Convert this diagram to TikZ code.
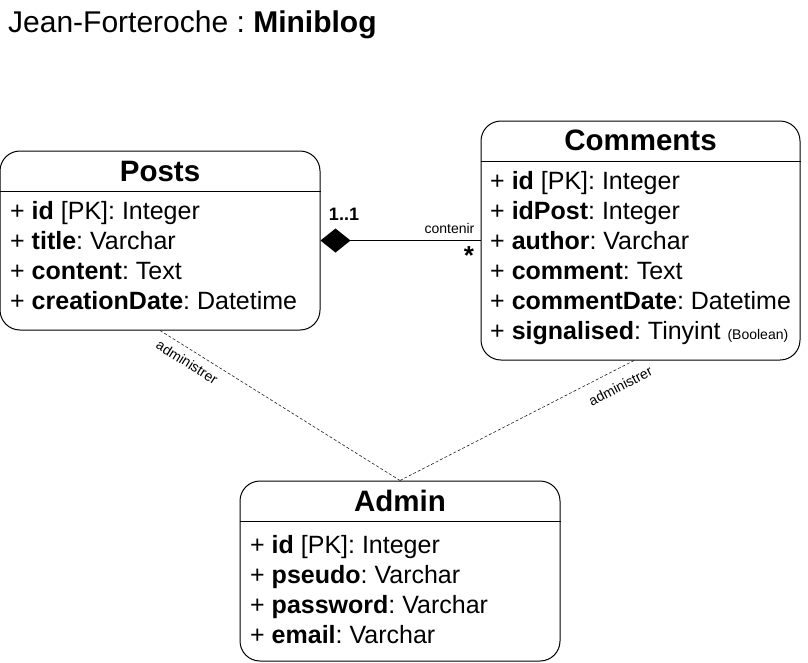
\documentclass[tikz,border=0pt]{standalone}
\usepackage{fontspec}
\setmainfont{Liberation Sans}
\usetikzlibrary{arrows.meta}
\frenchspacing
\tikzset{
  entity/.style={draw, line width=1pt, rounded corners=20pt, minimum width=320pt, inner sep=0pt},
  head/.style={font=\fontsize{29.5}{32}\bfseries\selectfont, anchor=base, inner sep=0pt},
  attr/.style={font=\fontsize{25}{28}\selectfont, anchor=base west, inner sep=0pt},
  rolelabel/.style={font=\fontsize{14}{16}\selectfont, inner sep=0pt}
}
\begin{document}
\begin{tikzpicture}[x=1pt, y=-1pt]
\useasboundingbox (0,0) rectangle (808,662);
% title
\node[anchor=base west, inner sep=0pt, font=\fontsize{30}{32}\selectfont] (title) at (8,32) {Jean-Forteroche : \textbf{Miniblog}};
% boxes
\node[entity, minimum height=179pt] (posts) at (160,240.5) {};
\node[entity, minimum width=319pt, minimum height=239pt] (comments) at (640.5,240.5) {};
\node[entity, minimum height=180pt] (admin) at (400,571) {};
\draw[line width=1pt] (posts.west |- 0,191) -- (posts.east |- 0,191);
\draw[line width=1pt] (comments.west |- 0,161) -- (comments.east |- 0,161);
\draw[line width=1pt] (admin.west |- 0,521) -- (admin.east |- 0,521);
\node[head] (postshead) at (160,181.5) {Posts};
\node[head] (commentshead) at (640.5,150) {Comments};
\node[head] (adminhead) at (400,511.5) {Admin};
% attributes
\foreach [count=\i] \t in {{+ \textbf{id} [PK]: Integer}, {+ \textbf{title}: Varchar},
  {+ \textbf{content}: Text}, {+ \textbf{creationDate}: Datetime}}
  \node[attr] (post\i) at (10,189.5+30*\i) {\t};
\foreach [count=\i] \t in {{+ \textbf{id} [PK]: Integer}, {+ \textbf{idPost}: Integer},
  {+ \textbf{author}: Varchar}, {+ \textbf{comment}: Text}, {+ \textbf{commentDate}: Datetime},
  {+ \textbf{signalised}: Tinyint {\fontsize{14}{15}\selectfont(Boolean)}}}
  \node[attr] (comment\i) at (490,159+30*\i) {\t};
\foreach [count=\i] \t in {{+ \textbf{id} [PK]: Integer}, {+ \textbf{pseudo}: Varchar},
  {+ \textbf{password}: Varchar}, {+ \textbf{email}: Varchar}}
  \node[attr] (admin\i) at (250,523.5+30*\i) {\t};
% relations
\draw[line width=1pt, -{Diamond[length=30pt, width=24pt]}] (comments.west) -- (posts.east);
\node[font=\fontsize{18}{20}\bfseries\selectfont, inner sep=0pt] (mult1) at (344,214) {1..1};
\node[rolelabel] (contenir) at (449.5,228) {contenir};
\node[font=\fontsize{26}{28}\bfseries\selectfont, inner sep=0pt] (multn) at (469,256) {*};
\coordinate (cfoot) at ([xshift=-6.5pt]comments.south);
\draw[dashed, dash pattern=on 3pt off 2pt, line width=0.5pt] (posts.south) -- node[rolelabel, sloped, pos=0.14, below=7pt] (adm1) {administrer} (admin.north);
\draw[dashed, dash pattern=on 3pt off 2pt, line width=0.5pt] (cfoot) -- node[rolelabel, sloped, pos=0.09, below=11pt] (adm2) {administrer} (admin.north);
\end{tikzpicture}
\end{document}
